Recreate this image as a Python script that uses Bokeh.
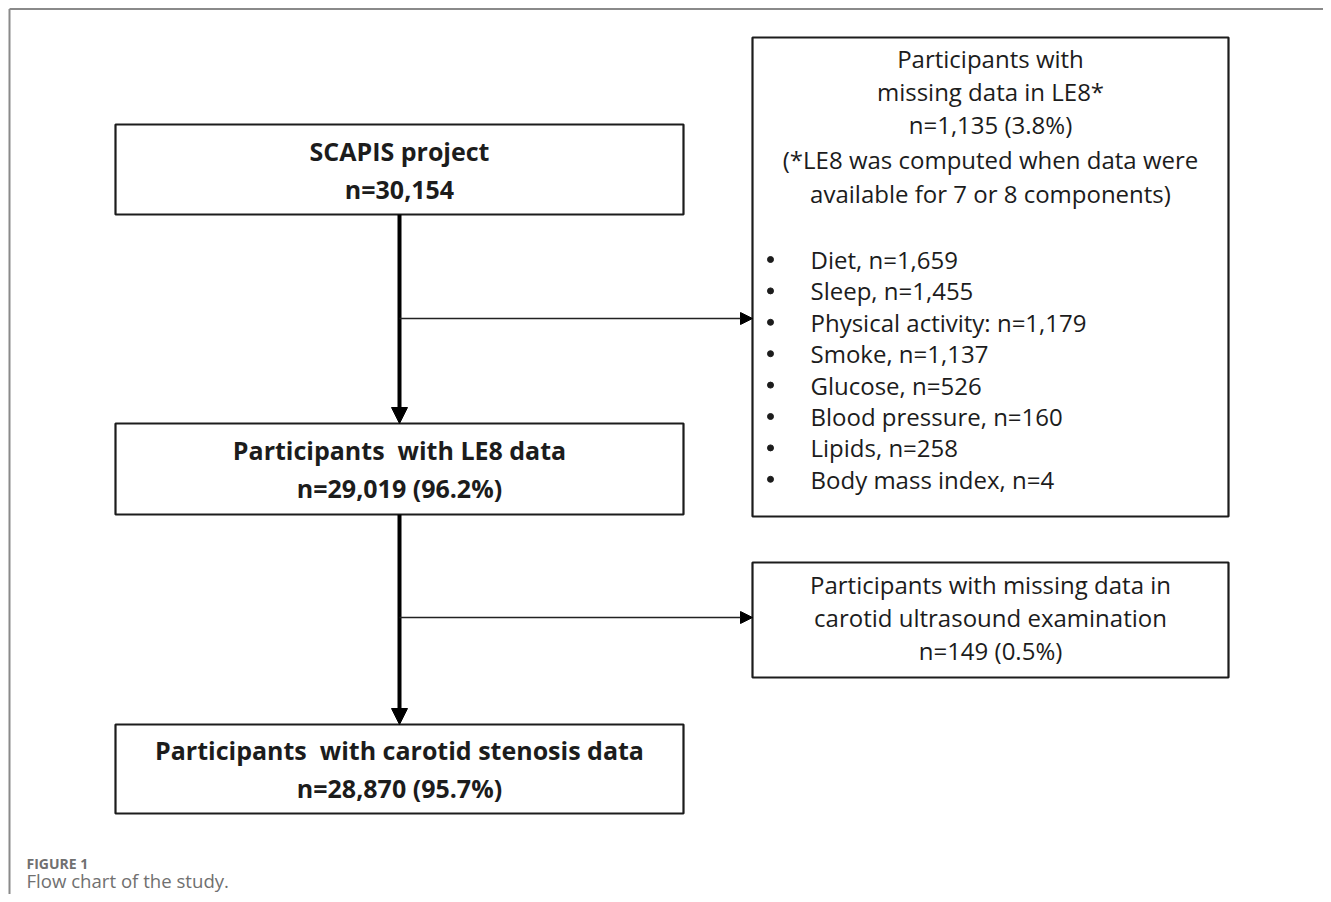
from bokeh.plotting import figure
from bokeh.models import Range1d, Arrow, NormalHead
from bokeh.core.properties import value
from bokeh.embed import file_html
from bokeh.resources import INLINE

# ---- content ----
main_titles = ["SCAPIS project", "Participants\u00a0 with LE8 data", "Participants\u00a0 with carotid stenosis data"]
main_counts = ["n=30,154", "n=29,019 (96.2%)", "n=28,870 (95.7%)"]
excl1_header = ["Participants with", "missing data in LE8*", "n=1,135 (3.8%)",
                "(*LE8 was computed when data were", "available for 7 or 8 components)"]
excl1_items = ["Diet, n=1,659", "Sleep, n=1,455", "Physical activity: n=1,179", "Smoke, n=1,137",
               "Glucose, n=526", "Blood pressure, n=160", "Lipids, n=258", "Body mass index, n=4"]
excl2_lines = ["Participants with missing data in", "carotid ultrasound examination", "n=149 (0.5%)"]
caption_label = "FIGURE 1"
caption_text = "Flow chart of the study."

# ---- layout (pixel-like coordinates) ----
W, H = 1323, 894
p = figure(width=W, height=H, x_range=Range1d(0, W), y_range=Range1d(H, 0),
           output_backend="svg", toolbar_location=None, min_border=0)
p.axis.visible = False
p.grid.visible = False
p.outline_line_color = None
p.background_fill_color = "white"

FONT = value("Open Sans")
INK = "#1c1c1c"

# page frame (top and left rule)
p.segment(x0=[9, 9], y0=[8.5, 8.5], x1=[1331, 9], y1=[8.5, 902], line_color="#8a8a8a", line_width=2)

# main boxes
main_boxes = [(115, 683, 124, 214), (115, 683, 423, 514), (115, 683, 724, 813)]
for (l, r, t, b), title, cnt in zip(main_boxes, main_titles, main_counts):
    p.quad(left=l, right=r, top=t, bottom=b, fill_color="white", line_color=INK, line_width=2.2)
    cy = (t + b) / 2
    p.text(x=[(l + r) / 2] * 2, y=[cy - 19, cy + 19], text=[title, cnt],
           text_font=FONT, text_font_style="bold", text_font_size="25px",
           text_align="center", text_baseline="middle", text_color=INK)

# exclusion box 1
p.quad(left=752, right=1228, top=37, bottom=516, fill_color="white", line_color=INK, line_width=2.2)
hy = [58, 91, 124, 159, 193]
p.text(x=[990] * len(excl1_header), y=hy[:len(excl1_header)], text=excl1_header,
       text_font=FONT, text_font_size="24px", text_align="center", text_baseline="middle", text_color=INK)
iy = [259 + 31.4 * i for i in range(len(excl1_items))]
p.text(x=[810] * len(excl1_items), y=iy, text=excl1_items,
       text_font=FONT, text_font_size="24px", text_align="left", text_baseline="middle", text_color=INK)
p.scatter(x=[770] * len(excl1_items), y=iy, size=6, color=INK)

# exclusion box 2
p.quad(left=752, right=1228, top=562, bottom=677, fill_color="white", line_color=INK, line_width=2.2)
p.text(x=[990] * 3, y=[584, 617, 650], text=excl2_lines,
       text_font=FONT, text_font_size="24px", text_align="center", text_baseline="middle", text_color=INK)

# arrows
vx = 399
p.add_layout(Arrow(x_start=vx, y_start=214, x_end=vx, y_end=423, line_width=4, line_color="black",
                   end=NormalHead(size=16, fill_color="black", line_color="black")))
p.add_layout(Arrow(x_start=vx, y_start=514, x_end=vx, y_end=724, line_width=4, line_color="black",
                   end=NormalHead(size=16, fill_color="black", line_color="black")))
p.add_layout(Arrow(x_start=vx, y_start=318, x_end=752, y_end=318, line_width=1.6, line_color="#222222",
                   end=NormalHead(size=12, fill_color="black", line_color="black")))
p.add_layout(Arrow(x_start=vx, y_start=617, x_end=752, y_end=617, line_width=1.6, line_color="#222222",
                   end=NormalHead(size=12, fill_color="black", line_color="black")))

# caption
p.text(x=[26], y=[863], text=[caption_label], text_font=value("Open Sans"), text_font_style="bold",
       text_font_size="14px", text_baseline="middle", text_color="#707070")
p.text(x=[26], y=[880], text=[caption_text], text_font=value("Open Sans"),
       text_font_size="18.6px", text_baseline="middle", text_color="#707070")

open("out.html", "w").write(file_html(p, INLINE))
